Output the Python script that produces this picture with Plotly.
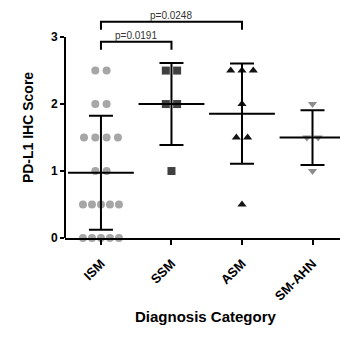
import numpy as np
import plotly.graph_objects as go

categories = ["ISM", "SSM", "ASM", "SM-AHN"]
ism_values = [2.5, 2.5, 2.0, 2.0, 1.5, 1.5, 1.5, 1.5, 1.0, 1.0,
              0.5, 0.5, 0.5, 0.5, 0.5, 0.0, 0.0, 0.0, 0.0, 0.0]
ssm_values = [2.5, 2.5, 2.0, 2.0, 1.0]
asm_values = [2.5, 2.5, 2.5, 2.0, 1.5, 1.5, 0.5]
smahn_values = [2.0, 1.5, 1.5, 1.0]
y_ticks = [0, 1, 2, 3]
comparisons = [(0, 1), (0, 2)]
p_labels = ["p=0.0191", "p=0.0248"]

series = [ism_values, ssm_values, asm_values, smahn_values]
symbols = ["circle", "square", "triangle-up", "triangle-down"]
colors = ["#a6a6a6", "#404040", "#141414", "#8c8c8c"]
sizes = [8, 8, 8, 8]

PX_PER_UNIT = 70.5
FONT = "Liberation Sans, Arial, sans-serif"


def scatter_positions(center, values):
    # Prism-like column scatter: points of equal value spread horizontally
    xs = []
    counts = {}
    for v in values:
        counts[v] = counts.get(v, 0) + 1
    seen = {}
    for v in values:
        n = counts[v]
        i = seen.get(v, 0)
        seen[v] = i + 1
        spacing_px = 11.3 if n <= 4 else 36.0 / (n - 1)
        xs.append(center + (i - (n - 1) / 2) * spacing_px / PX_PER_UNIT)
    return xs


fig = go.Figure()

for k, vals in enumerate(series):
    fig.add_trace(go.Scatter(
        x=scatter_positions(k, vals), y=vals, mode="markers",
        marker=dict(symbol=symbols[k], size=sizes[k], color=colors[k], line=dict(width=0)),
        cliponaxis=False, showlegend=False, hoverinfo="skip"))

means = [float(np.mean(v)) for v in series]
sds = [float(np.std(v, ddof=1)) for v in series]

fig.add_trace(go.Scatter(
    x=list(range(len(categories))), y=means, mode="markers",
    marker=dict(symbol="line-ew", size=47, color="black", line=dict(width=2, color="black")),
    error_y=dict(type="data", array=sds, symmetric=True, width=12, thickness=2, color="black"),
    cliponaxis=False, showlegend=False, hoverinfo="skip"))

shapes = [dict(type="line", xref="paper", yref="y", x0=0, x1=0, y0=0, y1=3,
               line=dict(color="black", width=2))]
bracket_levels = [2.93, 3.23]
annotations = []
for (a, b), lab, lvl in zip(comparisons, p_labels, bracket_levels):
    shapes.append(dict(type="path", xref="x", yref="y",
                       path=f"M {a},{lvl-0.12} L {a},{lvl} L {b},{lvl} L {b},{lvl-0.12}",
                       line=dict(color="black", width=2)))
    annotations.append(dict(x=(a + b) / 2, y=lvl, xref="x", yref="y", text=lab,
                            showarrow=False, yanchor="bottom", yshift=-1,
                            font=dict(family=FONT, size=10, color="#333333")))

plot_w = 340 - 65
plot_h = 339 - 17 - 101
annotations.append(dict(x=(206 - 65) / plot_w, y=-(327 - (339 - 101)) / plot_h,
                        xref="paper", yref="paper", text="<b>Diagnosis Category</b>",
                        showarrow=False, font=dict(family=FONT, size=15, color="black")))

fig.update_layout(
    width=340, height=339,
    margin=dict(l=65, r=0, t=17, b=101),
    plot_bgcolor="white", paper_bgcolor="white",
    font=dict(family=FONT, color="black"),
    shapes=shapes,
    annotations=annotations,
    xaxis=dict(range=[-0.51, 3.39], tickvals=list(range(len(categories))), ticktext=categories,
               tickangle=-45, showgrid=False, zeroline=False, showline=True, linecolor="black",
               linewidth=2, ticks="outside", ticklen=5, tickwidth=2, tickcolor="black",
               ticklabelstandoff=6,
               tickfont=dict(family=FONT, size=13, color="black", weight="bold")),
    yaxis=dict(range=[0, 3.3], tickvals=y_ticks, showgrid=False, zeroline=False, showline=False,
               ticks="outside", ticklen=4, tickwidth=2, tickcolor="black",
               tickfont=dict(family=FONT, size=12, color="black", weight="bold"),
               title=dict(text="<b>PD-L1 IHC Score</b>", font=dict(family=FONT, size=14, color="black"),
                          standoff=14)),
)

fig.write_html("out.html", config={"displayModeBar": False},
               post_script="document.body.style.margin='0';")
